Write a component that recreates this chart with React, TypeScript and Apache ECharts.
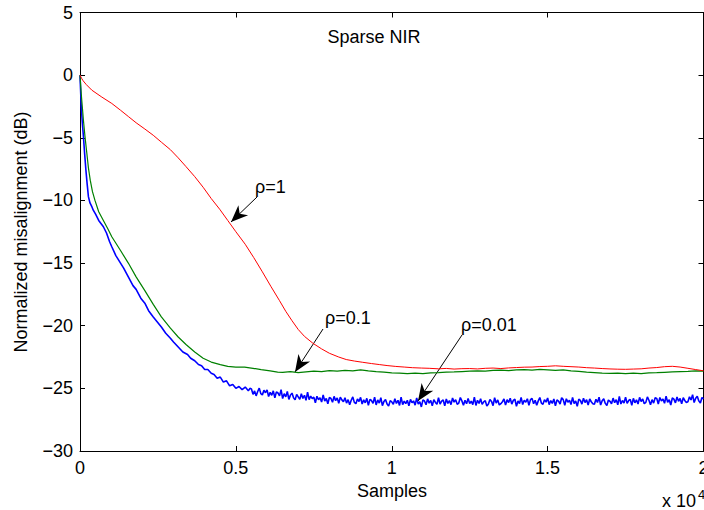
import React, { useEffect, useRef } from "react";
import * as echarts from "echarts";

// ---- data (x in units of 10^4 samples, y in dB) ----
const redX = [0, 0.005, 0.01, 0.02, 0.038, 0.07, 0.102, 0.13, 0.155, 0.18, 0.208, 0.235, 0.261, 0.29, 0.315, 0.34, 0.368, 0.395, 0.421, 0.448, 0.474, 0.5, 0.53, 0.557, 0.585, 0.612, 0.64, 0.66, 0.68, 0.7, 0.72, 0.747, 0.775, 0.8, 0.83, 0.854, 0.88, 0.907, 0.935, 0.96, 0.985, 1.013, 1.04, 1.066, 1.095, 1.12, 1.15, 1.175, 1.2, 1.225, 1.25, 1.275, 1.3, 1.325, 1.35, 1.375, 1.4, 1.425, 1.45, 1.475, 1.5, 1.525, 1.55, 1.575, 1.6, 1.625, 1.65, 1.675, 1.7, 1.725, 1.75, 1.775, 1.8, 1.825, 1.85, 1.875, 1.9, 1.925, 1.95, 1.975, 2.0];
const redY = [0, -0.25, -0.45, -0.75, -1.2, -1.75, -2.26, -2.8, -3.3, -3.8, -4.3, -4.8, -5.35, -5.95, -6.6, -7.3, -8.1, -8.95, -9.85, -10.7, -11.6, -12.5, -13.5, -14.55, -15.7, -16.85, -18.0, -18.85, -19.6, -20.3, -20.85, -21.4, -21.85, -22.2, -22.5, -22.7, -22.82, -22.92, -23.02, -23.1, -23.18, -23.25, -23.3, -23.35, -23.38, -23.4, -23.44, -23.41, -23.46, -23.43, -23.42, -23.45, -23.4, -23.38, -23.42, -23.37, -23.34, -23.31, -23.3, -23.26, -23.24, -23.2, -23.24, -23.27, -23.3, -23.35, -23.38, -23.42, -23.45, -23.47, -23.48, -23.46, -23.44, -23.38, -23.34, -23.27, -23.24, -23.3, -23.4, -23.5, -23.6];

const greenX = [0, 0.004, 0.008, 0.011, 0.016, 0.022, 0.027, 0.033, 0.04, 0.048, 0.06, 0.075, 0.09, 0.102, 0.13, 0.155, 0.18, 0.208, 0.235, 0.261, 0.29, 0.315, 0.34, 0.368, 0.395, 0.421, 0.45, 0.474, 0.5, 0.528, 0.555, 0.581, 0.61, 0.634, 0.65, 0.675, 0.7, 0.725, 0.75, 0.775, 0.8, 0.825, 0.85, 0.875, 0.9, 0.925, 0.95, 0.975, 1.0, 1.025, 1.05, 1.075, 1.1, 1.125, 1.15, 1.175, 1.2, 1.225, 1.25, 1.275, 1.3, 1.325, 1.35, 1.375, 1.4, 1.425, 1.45, 1.475, 1.5, 1.525, 1.55, 1.575, 1.6, 1.625, 1.65, 1.675, 1.7, 1.725, 1.75, 1.775, 1.8, 1.825, 1.85, 1.875, 1.9, 1.925, 1.95, 1.975, 2.0];
const greenY = [0, -1.5, -2.7, -3.6, -4.9, -6.25, -7.4, -8.4, -9.3, -10.0, -10.9, -11.6, -12.3, -12.9, -14.0, -15.0, -16.1, -17.2, -18.3, -19.3, -20.2, -20.9, -21.5, -22.1, -22.6, -22.9, -23.1, -23.25, -23.3, -23.3, -23.4, -23.5, -23.6, -23.7, -23.72, -23.66, -23.74, -23.68, -23.63, -23.67, -23.58, -23.62, -23.57, -23.61, -23.53, -23.6, -23.66, -23.7, -23.76, -23.79, -23.83, -23.78, -23.82, -23.76, -23.74, -23.71, -23.69, -23.66, -23.63, -23.6, -23.62, -23.57, -23.55, -23.58, -23.53, -23.5, -23.54, -23.48, -23.52, -23.56, -23.53, -23.6, -23.65, -23.7, -23.74, -23.79, -23.81, -23.78, -23.82, -23.79, -23.83, -23.77, -23.75, -23.72, -23.69, -23.66, -23.64, -23.61, -23.62];

const blueHeadX = [0, 0.004, 0.008, 0.011, 0.015, 0.019, 0.023, 0.027, 0.032, 0.038, 0.043, 0.05, 0.06, 0.075, 0.085, 0.095, 0.102, 0.115, 0.13, 0.14, 0.155, 0.17, 0.18, 0.195, 0.208, 0.22, 0.235, 0.248, 0.261, 0.275, 0.29, 0.3, 0.315, 0.33, 0.345, 0.355, 0.368, 0.38, 0.39, 0.4, 0.41, 0.421, 0.43, 0.44, 0.45, 0.46, 0.47, 0.48, 0.49, 0.5, 0.51, 0.52, 0.53, 0.54, 0.545];
const blueHeadY = [0, -2.5, -4.0, -4.9, -6.3, -7.6, -8.7, -9.7, -10.2, -10.5, -10.8, -11.1, -11.6, -12.1, -12.6, -13.3, -13.7, -14.4, -15.0, -15.4, -16.1, -16.8, -17.1, -17.8, -18.2, -18.8, -19.3, -19.7, -20.1, -20.6, -21.0, -21.3, -21.7, -22.1, -22.3, -22.6, -22.8, -23.1, -23.2, -23.5, -23.5, -23.8, -23.9, -24.2, -24.1, -24.5, -24.4, -24.8, -24.7, -25.0, -24.85, -25.1, -24.9, -25.2, -25.0];
// blue tail: one reading every 0.005 (x 10^4) from 0.55 to 2.0
const blueTailStart = 0.55;
const blueTailStep = 0.005;
const blueTailY = [
  -25.05, -25.48, -25.20, -25.60, -25.25, -24.98, -25.42, -25.52, -25.15, -25.35,
  -25.12, -25.65, -25.32, -25.55, -25.20, -25.75, -25.28, -25.37, -25.60, -25.10,
  -25.82, -25.42, -25.68, -25.25, -25.88, -25.54, -25.38, -25.75, -25.92, -25.48,
  -25.68, -25.88, -25.43, -25.80, -25.55, -25.96, -25.30, -25.90, -25.62, -25.82,
  -25.70, -26.15, -25.63, -25.90, -25.75, -26.09, -25.52, -26.01, -25.81, -26.23,
  -25.72, -25.81, -26.11, -25.64, -25.98, -25.76, -26.19, -25.70, -25.92, -26.07,
  -25.75, -26.18, -25.90, -26.30, -25.95, -25.68, -26.12, -26.22, -25.85, -26.05,
  -25.72, -26.25, -25.92, -26.15, -25.80, -26.35, -25.88, -25.97, -26.20, -25.70,
  -26.32, -25.92, -26.18, -25.75, -26.38, -26.04, -25.88, -26.25, -26.42, -25.98,
  -26.08, -26.28, -25.83, -26.20, -25.95, -26.36, -25.70, -26.30, -26.02, -26.22,
  -25.95, -26.40, -25.88, -26.15, -26.00, -26.34, -25.77, -26.26, -26.06, -26.48,
  -25.92, -26.01, -26.31, -25.84, -26.18, -25.96, -26.39, -25.90, -26.12, -26.27,
  -25.75, -26.25, -26.02, -25.93, -26.40, -25.85, -26.20, -25.97, -26.30, -25.77,
  -26.10, -25.90, -26.27, -26.17, -25.73, -26.00, -26.35, -25.95, -26.23, -25.80,
  -26.22, -26.02, -26.30, -25.70, -26.36, -25.95, -26.20, -25.83, -26.28, -26.08,
  -25.98, -26.42, -26.25, -25.88, -26.04, -26.38, -25.75, -26.18, -25.92, -26.32,
  -26.22, -26.07, -25.85, -26.34, -25.91, -26.13, -25.79, -26.26, -25.96, -25.87,
  -26.43, -26.01, -26.21, -25.72, -26.29, -25.95, -26.10, -25.83, -26.35, -25.90,
  -25.80, -26.23, -25.95, -26.35, -26.00, -25.73, -26.17, -26.27, -25.90, -26.10,
  -25.77, -26.30, -25.97, -26.20, -25.85, -26.40, -25.93, -26.02, -26.25, -25.75,
  -25.90, -26.35, -25.83, -26.10, -25.95, -26.29, -25.72, -26.21, -26.01, -26.43,
  -25.87, -25.96, -26.26, -25.79, -26.13, -25.91, -26.34, -25.85, -26.07, -26.22,
  -26.27, -25.87, -26.13, -25.70, -26.33, -25.99, -25.83, -26.20, -26.37, -25.93,
  -26.03, -26.23, -25.78, -26.15, -25.90, -26.31, -25.65, -26.25, -25.97, -26.17,
  -25.70, -26.20, -25.97, -25.88, -26.35, -25.80, -26.15, -25.92, -26.25, -25.72,
  -26.05, -25.85, -26.22, -26.12, -25.68, -25.95, -26.30, -25.90, -26.18, -25.75,
  -25.80, -26.25, -25.73, -26.00, -25.85, -26.19, -25.62, -26.11, -25.91, -26.33,
  -25.77, -25.86, -26.16, -25.69, -26.03, -25.81, -26.24, -25.75, -25.97, -26.12,
  -26.07, -25.67, -25.93, -25.50, -26.13, -25.79, -25.63, -26.00, -26.17, -25.73, -25.83,
];

const xTicks = { min: 0, max: 2, interval: 0.5 };
const yTicks = { min: -30, max: 5, interval: 5 };

const titleText = "Sparse NIR";
const xLabel = "Samples";
const yLabel = "Normalized misalignment (dB)";
const annotations = [
  { text: "ρ=1", lx: 255, ly: 187, from: [257, 197], to: [231, 222] },
  { text: "ρ=0.1", lx: 325, ly: 318, from: [323, 329], to: [295, 372] },
  { text: "ρ=0.01", lx: 461, ly: 325, from: [462, 335], to: [418, 401] },
];

const FONT = "'Liberation Sans', Arial, Helvetica, sans-serif";

function zip(xs: number[], ys: number[]) {
  return xs.map((x, i) => [x, ys[i]]);
}

function arrowHead(from: number[], to: number[]) {
  const dx = to[0] - from[0];
  const dy = to[1] - from[1];
  const len = Math.hypot(dx, dy);
  const ux = dx / len, uy = dy / len;
  const nx = -uy, ny = ux;
  const L = 17, W = 7, N = 12;
  return [
    [to[0], to[1]],
    [to[0] - ux * L + nx * W, to[1] - uy * L + ny * W],
    [to[0] - ux * N, to[1] - uy * N],
    [to[0] - ux * L - nx * W, to[1] - uy * L - ny * W],
  ];
}

export default function App() {
  const ref = useRef<HTMLDivElement>(null);
  useEffect(() => {
    if (!ref.current) return;
    const chart = echarts.init(ref.current, null, { renderer: "svg" });
    const blueData = zip(blueHeadX, blueHeadY).concat(
      blueTailY.map((y, i) => [Math.round((blueTailStart + i * blueTailStep) * 1000) / 1000, y])
    );
    const axisLine = { show: true, onZero: false, lineStyle: { color: "#000", width: 1 } };
    const tickStyle = { show: true, inside: true, length: 5, lineStyle: { color: "#000", width: 1 } };
    const minus = (v: number) => (v < 0 ? "\u2212" + Math.abs(v) : String(v));
    const graphics: any[] = [
      { type: "text", x: 374, y: 37, style: { text: titleText, font: `18px ${FONT}`, fill: "#000", align: "center", verticalAlign: "middle" } },
      { type: "text", x: 392, y: 491, style: { text: xLabel, font: `18px ${FONT}`, fill: "#000", align: "center", verticalAlign: "middle" } },
      { type: "text", x: 20.5, y: 232, rotation: Math.PI / 2, style: { text: yLabel, font: `18px ${FONT}`, fill: "#000", align: "center", verticalAlign: "middle" } },
      { type: "text", x: 662, y: 500.5, style: { text: "x 10", font: `18px ${FONT}`, fill: "#000", align: "left", verticalAlign: "middle" } },
      { type: "text", x: 698, y: 494.5, style: { text: "4", font: `13px ${FONT}`, fill: "#000", align: "left", verticalAlign: "middle" } },
    ];
    annotations.forEach((a) => {
      graphics.push({ type: "text", x: a.lx, y: a.ly, style: { text: a.text, font: `18px ${FONT}`, fill: "#000", align: "left", verticalAlign: "middle" } });
      graphics.push({ type: "line", shape: { x1: a.from[0], y1: a.from[1], x2: a.to[0], y2: a.to[1] }, style: { stroke: "#000", lineWidth: 1 } });
      graphics.push({ type: "polygon", shape: { points: arrowHead(a.from, a.to) }, style: { fill: "#000", stroke: "none" } });
    });
    chart.setOption({
      animation: false,
      backgroundColor: "#fff",
      grid: { left: 80, top: 12.5, width: 623.5, height: 438.5, containLabel: false, outerBoundsMode: "none" },
      xAxis: [
        {
          type: "value", position: "bottom", ...xTicks,
          axisLine, axisTick: tickStyle, splitLine: { show: false },
          axisLabel: { color: "#000", fontSize: 18, fontFamily: FONT, margin: 8 },
        },
        {
          type: "value", position: "top", ...xTicks,
          axisLine, axisTick: tickStyle, splitLine: { show: false }, axisLabel: { show: false },
        },
      ],
      yAxis: [
        {
          type: "value", position: "left", ...yTicks,
          axisLine, axisTick: tickStyle, splitLine: { show: false },
          axisLabel: { color: "#000", fontSize: 18, fontFamily: FONT, margin: 7, formatter: minus },
        },
        {
          type: "value", position: "right", ...yTicks,
          axisLine, axisTick: tickStyle, splitLine: { show: false }, axisLabel: { show: false },
        },
      ],
      series: [
        { type: "line", name: "rho=1", data: zip(redX, redY), showSymbol: false, symbol: "none", lineStyle: { color: "#ff0000", width: 1 }, z: 3 },
        { type: "line", name: "rho=0.1", data: zip(greenX, greenY), showSymbol: false, symbol: "none", lineStyle: { color: "#008000", width: 1.2 }, z: 2 },
        { type: "line", name: "rho=0.01", data: blueData, showSymbol: false, symbol: "none", lineStyle: { color: "#0000ff", width: 1.6 }, z: 1 },
      ],
      graphic: graphics,
    });
    return () => chart.dispose();
  }, []);
  return <div ref={ref} style={{ position: "absolute", left: 0, top: 0, width: 704, height: 510 }} />;
}
